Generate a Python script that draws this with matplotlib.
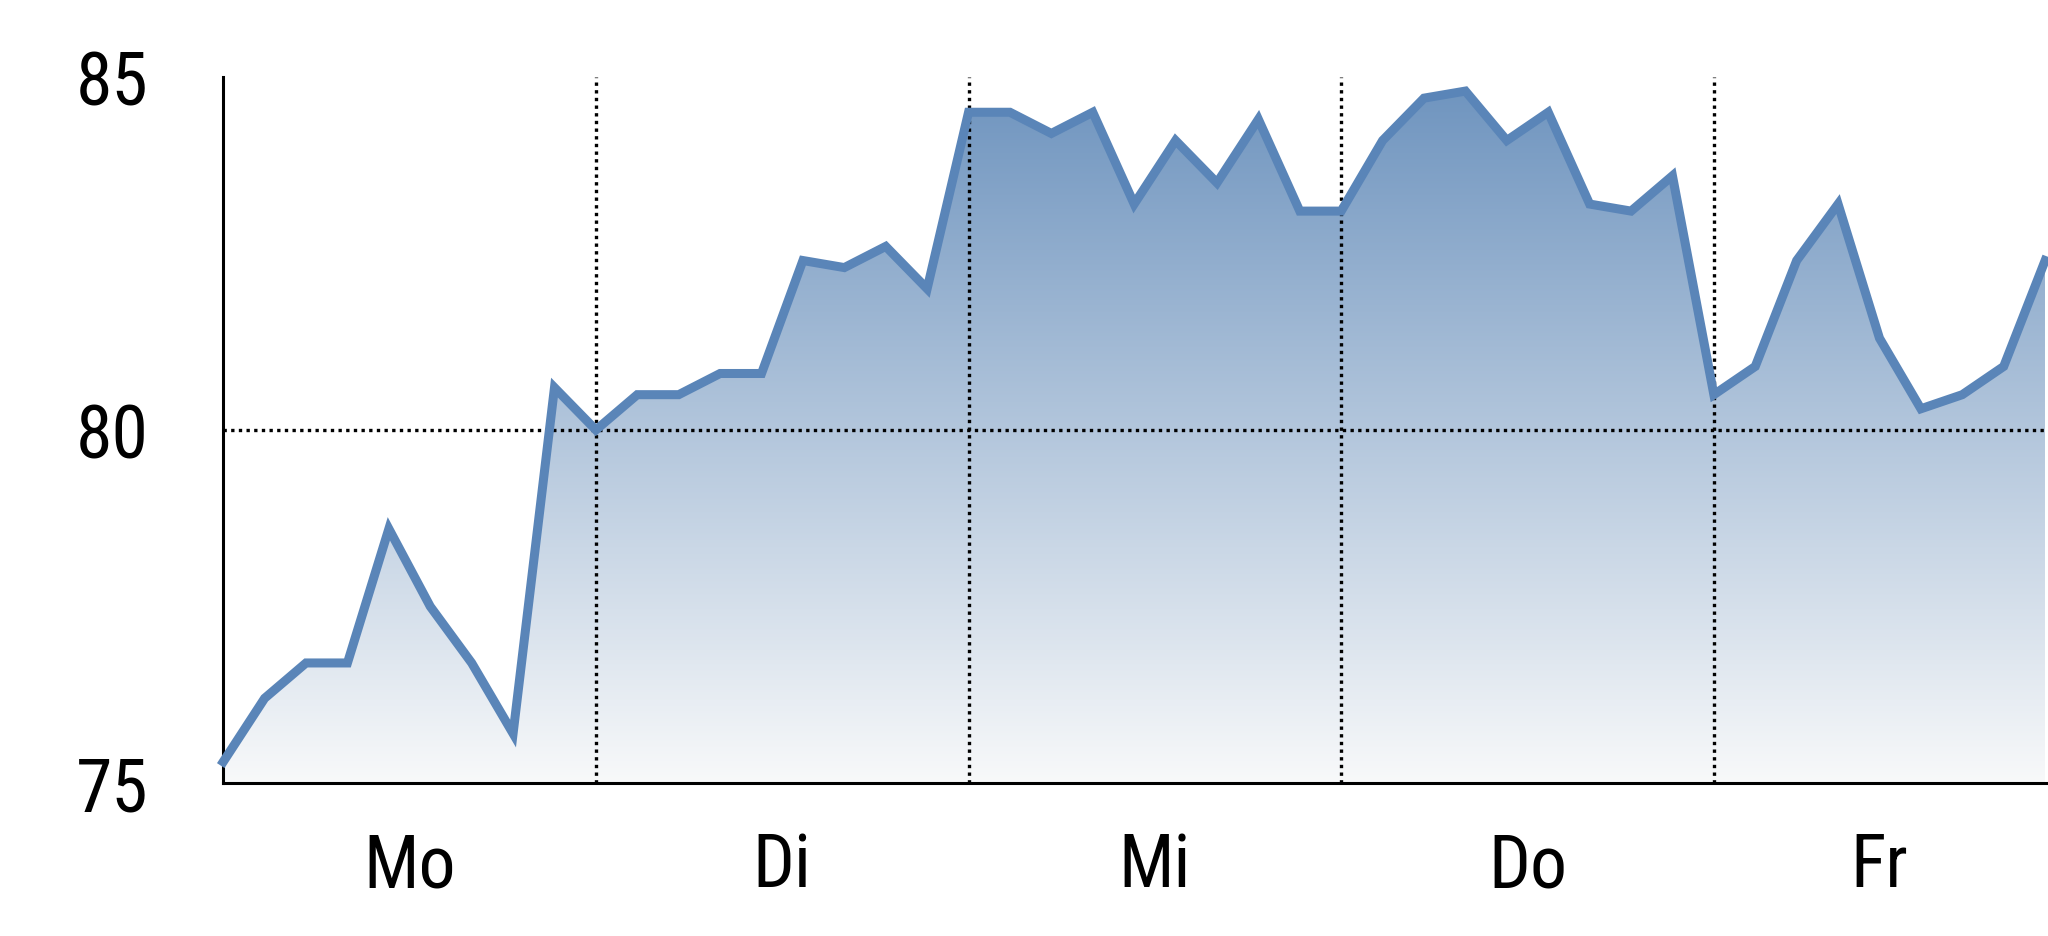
import numpy as np
import matplotlib.pyplot as plt
from matplotlib.colors import LinearSegmentedColormap

# Messwerte (9 pro Tag, Fr endet nach 8 Schritten)
werte = [75.3, 76.2, 76.7, 76.7, 78.6, 77.5, 76.7, 75.7, 80.6,
         80.0, 80.5, 80.5, 80.8, 80.8, 82.4, 82.3, 82.6, 82.0,
         84.5, 84.5, 84.2, 84.5, 83.2, 84.1, 83.5, 84.4, 83.1,
         83.1, 84.1, 84.7, 84.8, 84.1, 84.5, 83.2, 83.1, 83.6,
         80.5, 80.9, 82.4, 83.2, 81.3, 80.3, 80.5, 80.9, 82.4]
tage = ["Mo", "Di", "Mi", "Do", "Fr"]
tag_mitten = [4.5, 13.5, 22.5, 31.5, 40]
tag_grenzen = [9, 18, 27, 36]
y_ticks = [75, 80, 85]

plt.rcParams['font.family'] = ['Roboto Condensed', 'Liberation Sans', 'DejaVu Sans']

x = np.arange(len(werte))
fig = plt.figure(figsize=(20.48, 9.37), dpi=100)
ax = fig.add_axes([0.109, 0.1633, 0.891, 0.7535])
ax.set_xlim(0, len(werte) - 0.93)
ax.set_ylim(75, 85)

# Farbverlauf unter der Linie
cmap = LinearSegmentedColormap.from_list("verlauf", ["#f8f9fa", "#6d93be"])
grad = np.linspace(0, 1, 256).reshape(-1, 1)
img = ax.imshow(grad, cmap=cmap, aspect='auto', origin='lower',
                extent=[0, len(werte) - 1, 75, 85], zorder=1)
poly = ax.fill_between(x, werte, 75, color='none', lw=0)
img.set_clip_path(poly.get_paths()[0], transform=ax.transData)

punkte = (0, (1, 1.3))
for g in tag_grenzen:
    ax.axvline(g, color='black', linestyle=punkte, lw=2.4, zorder=2)
ax.axhline(80, color='black', linestyle=punkte, lw=2.4, xmax=0.998, zorder=2)

ax.plot(x, werte, color='#5a85b8', lw=6.5, solid_joinstyle='miter', zorder=3, clip_on=False)

ax.set_xticks(tag_mitten)
ax.set_xticklabels(tage, fontsize=53)
ax.set_yticks(y_ticks)
ax.set_yticklabels([str(v) for v in y_ticks], fontsize=53)
ax.tick_params(axis='both', length=0)
ax.tick_params(axis='y', pad=54)
ax.tick_params(axis='x', pad=34)

for s in ['top', 'right']:
    ax.spines[s].set_visible(False)
for s in ['left', 'bottom']:
    ax.spines[s].set_linewidth(2.2)

fig.savefig("out.png", dpi=100)
